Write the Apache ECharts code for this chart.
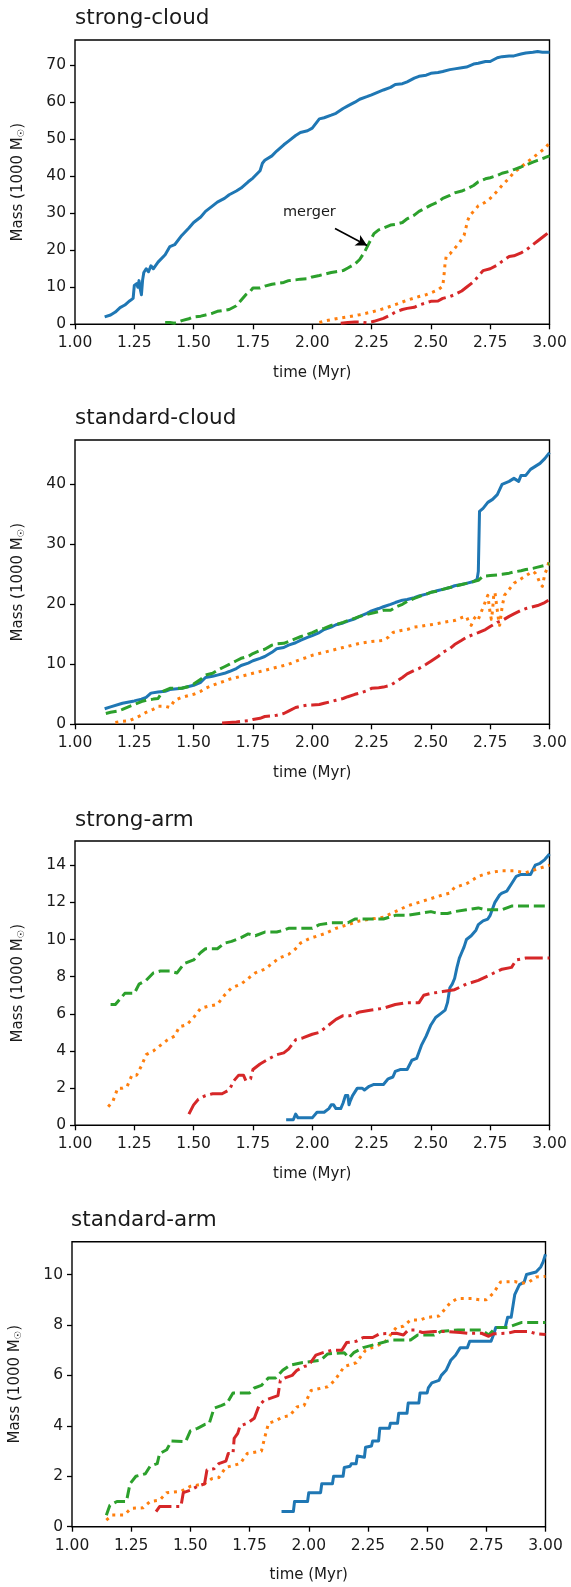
<!DOCTYPE html>
<html>
<head>
<meta charset="utf-8">
<script src="https://cdn.jsdelivr.net/npm/echarts@6/dist/echarts.min.js"></script>
<style>
html,body{margin:0;padding:0;background:#fff;}
#chart{width:571px;height:1587px;}
</style>
</head>
<body>
<div id="chart"></div>
<script>
// ---------- tick labels ----------
const xTicks = [1.00, 1.25, 1.50, 1.75, 2.00, 2.25, 2.50, 2.75, 3.00];
const yTicksStrongCloud = [0, 10, 20, 30, 40, 50, 60, 70];
const yTicksStandardCloud = [0, 10, 20, 30, 40];
const yTicksStrongArm = [0, 2, 4, 6, 8, 10, 12, 14];
const yTicksStandardArm = [0, 2, 4, 6, 8, 10];
const panelTitles = ['strong-cloud', 'standard-cloud', 'strong-arm', 'standard-arm'];
const yMax = [76.8, 47.4, 15.3, 11.3];

// ---------- strong-cloud: [time (Myr), mass (1000 Msun)] ----------
const strongCloudBlue = [[1.125,2.0],[1.15,2.5],[1.17,3.3],[1.19,4.5],[1.21,5.2],[1.23,6.3],[1.245,7.0],[1.25,10.5],[1.26,11.0],[1.265,10.0],[1.27,11.8],[1.275,9.5],[1.28,8.0],[1.285,12.0],[1.29,14.0],[1.30,15.0],[1.31,14.2],[1.32,15.8],[1.33,15.0],[1.35,16.8],[1.38,18.8],[1.40,21.0],[1.42,21.5],[1.45,24.0],[1.48,26.0],[1.50,27.5],[1.53,29.0],[1.55,30.5],[1.58,32.0],[1.60,33.0],[1.63,34.0],[1.65,35.0],[1.68,36.0],[1.70,36.8],[1.73,38.5],[1.75,39.5],[1.78,41.5],[1.79,43.5],[1.80,44.3],[1.83,45.5],[1.85,46.8],[1.88,48.5],[1.90,49.5],[1.93,51.0],[1.95,51.8],[1.98,52.3],[2.00,53.0],[2.03,55.5],[2.05,55.8],[2.08,56.5],[2.10,57.0],[2.13,58.3],[2.15,59.0],[2.18,60.0],[2.20,60.8],[2.23,61.5],[2.25,62.0],[2.28,62.8],[2.30,63.3],[2.33,64.0],[2.35,64.8],[2.38,65.0],[2.40,65.5],[2.43,66.5],[2.45,67.0],[2.48,67.3],[2.50,67.8],[2.53,68.0],[2.55,68.3],[2.58,68.8],[2.60,69.0],[2.63,69.3],[2.65,69.5],[2.68,70.3],[2.70,70.5],[2.73,71.0],[2.75,71.0],[2.78,72.0],[2.80,72.3],[2.83,72.5],[2.85,72.5],[2.88,73.0],[2.90,73.3],[2.93,73.5],[2.95,73.7],[2.97,73.5],[3.00,73.5]];
const strongCloudOrange = [[2.03,0.5],[2.06,1.0],[2.10,1.5],[2.15,2.0],[2.20,2.6],[2.25,3.3],[2.30,4.2],[2.35,5.3],[2.40,6.5],[2.45,7.5],[2.48,8.0],[2.50,8.5],[2.53,9.3],[2.55,10.3],[2.555,13.0],[2.56,16.5],[2.565,18.5],[2.58,19.0],[2.60,20.5],[2.62,22.0],[2.64,24.0],[2.655,28.0],[2.665,29.5],[2.68,30.5],[2.70,32.0],[2.73,33.0],[2.75,34.0],[2.78,36.0],[2.80,37.5],[2.83,39.5],[2.85,41.0],[2.88,42.5],[2.90,43.5],[2.93,45.0],[2.95,46.0],[2.98,47.5],[3.00,49.0]];
const strongCloudGreen = [[1.38,0.5],[1.40,0.5],[1.42,0.3],[1.45,1.0],[1.48,1.5],[1.50,2.0],[1.53,2.2],[1.55,2.5],[1.58,3.0],[1.60,3.5],[1.63,3.8],[1.65,4.0],[1.68,5.0],[1.70,6.5],[1.72,8.0],[1.74,9.0],[1.75,9.8],[1.78,9.8],[1.80,10.3],[1.83,10.8],[1.85,11.0],[1.88,11.3],[1.90,11.8],[1.93,12.0],[1.95,12.2],[1.98,12.3],[2.00,12.8],[2.03,13.2],[2.05,13.5],[2.08,14.0],[2.10,14.2],[2.13,14.5],[2.15,15.2],[2.18,16.3],[2.20,17.5],[2.22,19.5],[2.24,22.0],[2.26,24.5],[2.28,25.5],[2.30,26.0],[2.33,26.8],[2.35,27.0],[2.38,27.5],[2.40,28.5],[2.43,29.5],[2.45,30.5],[2.48,31.5],[2.50,32.2],[2.53,33.0],[2.55,34.0],[2.58,34.8],[2.60,35.5],[2.63,36.0],[2.65,36.5],[2.68,37.5],[2.70,38.5],[2.73,39.3],[2.75,39.6],[2.78,40.2],[2.80,40.8],[2.83,41.3],[2.85,41.8],[2.88,42.5],[2.90,43.0],[2.93,43.8],[2.95,44.3],[2.98,45.0],[3.00,45.5]];
const strongCloudRed = [[2.12,0.3],[2.15,0.5],[2.18,0.6],[2.20,0.6],[2.23,0.4],[2.26,0.8],[2.28,1.2],[2.30,1.6],[2.33,2.5],[2.35,3.3],[2.38,4.0],[2.40,4.3],[2.43,4.6],[2.45,5.2],[2.48,5.8],[2.50,6.2],[2.53,6.3],[2.55,7.0],[2.58,7.5],[2.60,8.0],[2.63,9.0],[2.65,10.0],[2.68,11.5],[2.70,13.0],[2.72,14.5],[2.75,15.0],[2.78,16.0],[2.80,17.0],[2.83,18.3],[2.85,18.5],[2.88,19.3],[2.90,20.0],[2.93,21.5],[2.95,22.5],[2.98,24.0],[3.00,25.0]];
// annotation "merger": text anchor and arrow (tail, head) in data units
const mergerText = [1.988, 30.2];
const mergerArrow = [[2.096, 25.9], [2.231, 21.3]];

// ---------- standard-cloud ----------
const standardCloudBlue = [[1.125,2.6],[1.15,2.9],[1.20,3.5],[1.25,3.9],[1.28,4.2],[1.30,4.5],[1.32,5.2],[1.35,5.4],[1.38,5.5],[1.40,5.8],[1.45,6.0],[1.50,6.5],[1.53,7.0],[1.55,7.8],[1.58,8.0],[1.60,8.2],[1.63,8.5],[1.65,8.8],[1.68,9.3],[1.70,9.8],[1.73,10.2],[1.75,10.6],[1.78,11.0],[1.80,11.3],[1.83,12.0],[1.85,12.6],[1.88,12.8],[1.90,13.2],[1.93,13.6],[1.95,14.0],[1.98,14.5],[2.00,14.8],[2.03,15.3],[2.05,15.8],[2.08,16.2],[2.10,16.6],[2.13,16.9],[2.15,17.2],[2.18,17.6],[2.20,18.0],[2.23,18.5],[2.25,18.9],[2.28,19.3],[2.30,19.6],[2.33,20.0],[2.35,20.3],[2.38,20.7],[2.40,20.8],[2.43,21.1],[2.45,21.4],[2.48,21.7],[2.50,22.0],[2.53,22.3],[2.55,22.5],[2.58,22.8],[2.60,23.1],[2.63,23.3],[2.65,23.5],[2.68,23.8],[2.695,24.2],[2.70,25.5],[2.705,35.5],[2.72,36.0],[2.74,37.0],[2.76,37.5],[2.78,38.3],[2.80,40.0],[2.83,40.5],[2.85,41.0],[2.87,40.5],[2.88,41.5],[2.90,41.5],[2.92,42.5],[2.94,43.0],[2.96,43.5],[2.98,44.3],[3.00,45.3]];
const standardCloudOrange = [[1.17,0.3],[1.20,0.5],[1.23,0.6],[1.25,1.0],[1.28,1.5],[1.30,2.0],[1.33,2.5],[1.35,3.0],[1.38,3.0],[1.40,2.8],[1.42,4.0],[1.45,4.5],[1.48,4.8],[1.50,5.0],[1.53,5.5],[1.55,6.0],[1.58,6.5],[1.60,6.8],[1.63,7.2],[1.65,7.5],[1.68,7.8],[1.70,8.0],[1.73,8.3],[1.75,8.5],[1.78,8.8],[1.80,9.0],[1.83,9.3],[1.85,9.5],[1.88,9.8],[1.90,10.0],[1.93,10.5],[1.95,10.8],[1.98,11.2],[2.00,11.5],[2.03,11.8],[2.05,12.0],[2.08,12.3],[2.10,12.5],[2.13,12.8],[2.15,13.0],[2.18,13.3],[2.20,13.5],[2.23,13.7],[2.25,13.8],[2.28,13.9],[2.30,14.0],[2.32,14.5],[2.34,15.3],[2.37,15.6],[2.40,15.8],[2.43,16.2],[2.45,16.3],[2.48,16.5],[2.50,16.6],[2.53,16.8],[2.55,17.0],[2.58,17.2],[2.60,17.3],[2.63,17.8],[2.65,18.0],[2.66,17.0],[2.67,16.5],[2.68,17.5],[2.69,18.0],[2.70,17.5],[2.71,18.5],[2.72,19.5],[2.73,20.5],[2.74,21.5],[2.745,20.0],[2.75,18.5],[2.755,17.5],[2.76,19.0],[2.765,21.5],[2.77,22.0],[2.775,20.5],[2.78,19.0],[2.785,17.5],[2.79,16.5],[2.795,18.0],[2.80,19.5],[2.81,21.5],[2.83,22.5],[2.85,23.5],[2.87,24.0],[2.89,24.5],[2.91,25.0],[2.93,25.5],[2.94,25.2],[2.95,24.5],[2.96,23.5],[2.97,23.0],[2.98,25.0],[2.99,26.0],[3.00,27.5]];
const standardCloudGreen = [[1.13,1.8],[1.15,2.0],[1.18,2.2],[1.20,2.5],[1.23,3.0],[1.25,3.3],[1.28,3.8],[1.30,4.0],[1.33,4.2],[1.35,4.3],[1.37,5.5],[1.40,6.0],[1.43,6.0],[1.45,6.0],[1.48,6.3],[1.50,6.7],[1.53,7.5],[1.55,8.2],[1.58,8.5],[1.60,9.0],[1.63,9.6],[1.65,10.0],[1.68,10.6],[1.70,11.0],[1.73,11.3],[1.75,11.8],[1.78,12.3],[1.80,12.5],[1.83,13.2],[1.85,13.4],[1.88,13.5],[1.90,13.8],[1.93,14.3],[1.95,14.6],[1.98,15.0],[2.00,15.3],[2.03,15.8],[2.05,16.0],[2.08,16.5],[2.10,16.6],[2.13,17.0],[2.15,17.3],[2.18,17.7],[2.20,18.0],[2.23,18.3],[2.25,18.5],[2.28,18.8],[2.30,19.0],[2.33,19.0],[2.35,19.5],[2.38,20.0],[2.40,20.5],[2.43,21.0],[2.45,21.3],[2.48,21.7],[2.50,22.0],[2.53,22.2],[2.55,22.5],[2.58,22.8],[2.60,23.0],[2.63,23.3],[2.65,23.5],[2.68,23.8],[2.70,24.0],[2.72,24.7],[2.75,24.8],[2.78,24.9],[2.80,25.0],[2.83,25.2],[2.85,25.4],[2.88,25.6],[2.90,25.8],[2.93,26.0],[2.95,26.2],[2.98,26.5],[3.00,26.8]];
const standardCloudRed = [[1.62,0.2],[1.65,0.3],[1.68,0.4],[1.70,0.5],[1.73,0.6],[1.75,0.8],[1.78,1.0],[1.80,1.3],[1.83,1.4],[1.85,1.5],[1.88,1.8],[1.90,2.2],[1.93,2.8],[1.95,3.0],[1.98,3.2],[2.00,3.2],[2.03,3.3],[2.05,3.5],[2.08,3.8],[2.10,4.0],[2.13,4.3],[2.15,4.6],[2.18,5.0],[2.20,5.2],[2.23,5.6],[2.25,6.0],[2.28,6.1],[2.30,6.2],[2.33,6.5],[2.35,7.0],[2.38,7.8],[2.40,8.4],[2.43,9.0],[2.45,9.3],[2.48,10.0],[2.50,10.5],[2.53,11.3],[2.55,12.0],[2.58,12.6],[2.60,13.3],[2.63,14.0],[2.65,14.5],[2.68,15.0],[2.70,15.3],[2.73,15.8],[2.75,16.3],[2.78,17.0],[2.80,17.3],[2.83,18.0],[2.85,18.4],[2.88,19.0],[2.90,19.3],[2.93,19.6],[2.95,19.8],[2.98,20.3],[3.00,20.8]];

// ---------- strong-arm ----------
const strongArmBlue = [[1.89,0.3],[1.92,0.3],[1.93,0.6],[1.94,0.4],[1.97,0.4],[2.00,0.4],[2.02,0.7],[2.05,0.7],[2.07,0.9],[2.08,1.1],[2.09,1.1],[2.10,0.9],[2.12,0.9],[2.13,1.2],[2.14,1.6],[2.15,1.6],[2.155,1.1],[2.16,1.3],[2.17,1.6],[2.19,2.0],[2.21,2.0],[2.22,1.9],[2.24,2.1],[2.26,2.2],[2.30,2.2],[2.32,2.5],[2.34,2.6],[2.35,2.9],[2.37,3.0],[2.40,3.0],[2.42,3.5],[2.44,3.6],[2.46,4.3],[2.48,4.8],[2.50,5.4],[2.52,5.8],[2.54,6.0],[2.56,6.2],[2.57,6.6],[2.58,7.4],[2.59,7.6],[2.60,7.9],[2.61,8.5],[2.62,9.0],[2.63,9.3],[2.64,9.6],[2.65,10.0],[2.67,10.2],[2.69,10.5],[2.70,10.8],[2.72,11.0],[2.74,11.1],[2.75,11.3],[2.77,12.0],[2.79,12.4],[2.80,12.5],[2.82,12.6],[2.84,13.0],[2.86,13.4],[2.88,13.5],[2.90,13.5],[2.92,13.5],[2.94,14.0],[2.96,14.1],[2.98,14.3],[3.00,14.6]];
const strongArmOrange = [[1.14,1.0],[1.16,1.3],[1.18,2.0],[1.20,2.0],[1.22,2.1],[1.24,2.7],[1.26,2.7],[1.28,3.2],[1.30,3.8],[1.33,4.0],[1.36,4.3],[1.39,4.6],[1.42,4.8],[1.44,5.3],[1.47,5.4],[1.50,5.8],[1.53,6.3],[1.56,6.4],[1.60,6.5],[1.63,7.0],[1.66,7.4],[1.70,7.6],[1.73,7.9],[1.76,8.2],[1.80,8.4],[1.83,8.7],[1.86,9.0],[1.90,9.2],[1.93,9.5],[1.95,9.8],[1.98,10.0],[2.00,10.1],[2.05,10.3],[2.10,10.6],[2.15,10.8],[2.20,11.0],[2.25,11.1],[2.30,11.2],[2.35,11.5],[2.40,11.8],[2.45,12.0],[2.50,12.2],[2.55,12.4],[2.58,12.5],[2.60,12.8],[2.65,13.0],[2.70,13.4],[2.75,13.6],[2.80,13.7],[2.85,13.7],[2.90,13.6],[2.95,13.8],[3.00,14.0]];
const strongArmGreen = [[1.15,6.5],[1.17,6.5],[1.19,6.8],[1.21,7.1],[1.25,7.1],[1.27,7.6],[1.30,7.8],[1.33,8.2],[1.36,8.3],[1.40,8.3],[1.43,8.2],[1.46,8.7],[1.50,8.9],[1.53,9.3],[1.55,9.5],[1.60,9.5],[1.63,9.8],[1.66,9.9],[1.70,10.1],[1.73,10.3],[1.76,10.2],[1.80,10.4],[1.85,10.4],[1.88,10.5],[1.90,10.6],[1.95,10.6],[2.00,10.6],[2.03,10.8],[2.08,10.9],[2.15,10.9],[2.18,11.1],[2.22,11.1],[2.30,11.1],[2.35,11.3],[2.40,11.3],[2.45,11.4],[2.50,11.5],[2.53,11.4],[2.57,11.4],[2.60,11.5],[2.65,11.6],[2.70,11.7],[2.73,11.6],[2.80,11.6],[2.84,11.8],[2.90,11.8],[2.95,11.8],[3.00,11.8]];
const strongArmRed = [[1.48,0.6],[1.50,1.1],[1.52,1.4],[1.55,1.6],[1.58,1.7],[1.62,1.7],[1.65,1.9],[1.67,2.4],[1.69,2.7],[1.71,2.7],[1.72,2.4],[1.74,2.5],[1.75,3.0],[1.78,3.3],[1.82,3.6],[1.85,3.8],[1.88,3.9],[1.90,4.1],[1.93,4.6],[1.96,4.7],[2.00,4.9],[2.03,5.0],[2.06,5.3],[2.10,5.7],[2.13,5.9],[2.16,5.9],[2.20,6.1],[2.25,6.2],[2.30,6.3],[2.35,6.5],[2.40,6.6],[2.45,6.6],[2.47,7.0],[2.50,7.1],[2.55,7.2],[2.60,7.3],[2.65,7.6],[2.70,7.8],[2.75,8.1],[2.80,8.4],[2.84,8.5],[2.86,8.9],[2.90,9.0],[2.95,9.0],[3.00,9.0]];

// ---------- standard-arm ----------
const standardArmBlue = [[1.885,0.6],[1.935,0.6],[1.94,1.0],[1.995,1.0],[2.0,1.35],[2.05,1.35],[2.055,1.7],[2.10,1.7],[2.105,2.0],[2.145,2.0],[2.15,2.35],[2.175,2.4],[2.18,2.5],[2.20,2.5],[2.205,2.8],[2.235,2.75],[2.24,3.15],[2.265,3.2],[2.27,3.4],[2.295,3.4],[2.30,3.9],[2.34,3.9],[2.345,4.1],[2.375,4.1],[2.38,4.5],[2.415,4.5],[2.42,4.9],[2.465,4.9],[2.47,5.3],[2.50,5.3],[2.505,5.5],[2.52,5.7],[2.55,5.8],[2.56,6.0],[2.58,6.2],[2.60,6.6],[2.62,6.8],[2.64,7.1],[2.67,7.1],[2.68,7.35],[2.77,7.35],[2.78,7.6],[2.79,7.9],[2.83,7.9],[2.84,8.3],[2.855,8.3],[2.87,9.2],[2.89,9.6],[2.91,9.7],[2.92,10.0],[2.96,10.1],[2.98,10.3],[2.99,10.5],[3.00,10.8]];
const standardArmOrange = [[1.145,0.26],[1.17,0.46],[1.22,0.46],[1.25,0.73],[1.30,0.75],[1.33,1.0],[1.37,1.05],[1.40,1.35],[1.46,1.4],[1.50,1.6],[1.56,1.7],[1.59,1.9],[1.62,1.95],[1.65,2.35],[1.71,2.5],[1.74,2.9],[1.80,3.0],[1.815,3.57],[1.83,4.1],[1.86,4.2],[1.89,4.35],[1.92,4.4],[1.95,4.75],[1.98,4.8],[2.01,5.4],[2.08,5.55],[2.11,5.8],[2.15,6.35],[2.20,6.5],[2.24,7.0],[2.32,7.3],[2.37,7.9],[2.40,7.95],[2.43,8.2],[2.47,8.2],[2.50,8.3],[2.55,8.35],[2.60,8.9],[2.63,9.05],[2.69,9.05],[2.72,9.0],[2.75,9.0],[2.78,9.26],[2.81,9.7],[2.87,9.72],[2.90,9.65],[2.93,9.7],[2.96,9.9],[3.00,9.92]];
const standardArmGreen = [[1.145,0.45],[1.16,0.85],[1.19,1.0],[1.23,1.0],[1.245,1.7],[1.27,2.0],[1.31,2.1],[1.33,2.4],[1.36,2.5],[1.37,2.9],[1.40,3.05],[1.42,3.4],[1.48,3.37],[1.50,3.8],[1.53,3.9],[1.56,4.05],[1.58,4.1],[1.60,4.7],[1.63,4.8],[1.655,4.9],[1.68,5.3],[1.75,5.3],[1.77,5.5],[1.80,5.6],[1.83,5.9],[1.86,5.9],[1.89,6.2],[1.92,6.4],[1.97,6.5],[2.01,6.55],[2.05,6.6],[2.08,6.85],[2.15,6.9],[2.17,6.7],[2.19,6.9],[2.23,7.1],[2.29,7.25],[2.35,7.4],[2.43,7.4],[2.46,7.6],[2.53,7.6],[2.56,7.75],[2.63,7.8],[2.73,7.8],[2.76,7.6],[2.79,7.9],[2.84,7.9],[2.87,8.0],[2.90,8.1],[3.00,8.1]];
const standardArmRed = [[1.355,0.6],[1.37,0.8],[1.40,0.8],[1.46,0.8],[1.47,1.35],[1.50,1.45],[1.53,1.6],[1.56,1.7],[1.57,2.25],[1.60,2.3],[1.62,2.5],[1.65,2.6],[1.66,2.9],[1.68,2.9],[1.685,3.5],[1.70,3.7],[1.71,4.0],[1.74,4.1],[1.77,4.3],[1.79,4.8],[1.81,5.0],[1.84,5.1],[1.87,5.2],[1.88,5.8],[1.90,5.9],[1.93,6.0],[1.95,6.2],[1.98,6.35],[2.00,6.4],[2.03,6.8],[2.06,6.9],[2.10,7.0],[2.14,7.0],[2.16,7.3],[2.20,7.35],[2.23,7.5],[2.27,7.5],[2.30,7.65],[2.37,7.67],[2.40,7.6],[2.42,7.8],[2.45,7.8],[2.48,7.7],[2.53,7.74],[2.58,7.74],[2.64,7.7],[2.67,7.67],[2.73,7.67],[2.76,7.55],[2.78,7.65],[2.84,7.67],[2.87,7.74],[2.93,7.74],[2.96,7.65],[3.00,7.62]];

// ---------- build chart ----------
const FONT = 'DejaVu Sans';
const TXT = '#1a1a1a';
const COLORS = { blue: '#1f77b4', orange: '#ff7f0e', green: '#2ca02c', red: '#d62728' };
const LW = 3;
const STYLES = {
  blue:   { type: 'solid' },
  orange: { type: [3, 4.8], cap: 'butt' },
  green:  { type: [11, 4.8], cap: 'butt' },
  red:    { type: [18, 4.8, 3, 4.8], cap: 'butt' }
};

const layout = [
  { left: 75, top: 40,     width: 474.5, height: 284.3, titleTop: 7 },
  { left: 75, top: 440,    width: 474.5, height: 284.3, titleTop: 407.5 },
  { left: 75, top: 841,    width: 474.5, height: 284.3, titleTop: 809 },
  { left: 71, top: 1241.7, width: 474.5, height: 285,   titleTop: 1209 }
];
const yTickSets = [yTicksStrongCloud, yTicksStandardCloud, yTicksStrongArm, yTicksStandardArm];
const panelData = [
  { blue: strongCloudBlue, orange: strongCloudOrange, green: strongCloudGreen, red: strongCloudRed },
  { blue: standardCloudBlue, orange: standardCloudOrange, green: standardCloudGreen, red: standardCloudRed },
  { blue: strongArmBlue, orange: strongArmOrange, green: strongArmGreen, red: strongArmRed },
  { blue: standardArmBlue, orange: standardArmOrange, green: standardArmGreen, red: standardArmRed }
];

const grids = [], xAxes = [], yAxes = [], titles = [], series = [];
layout.forEach((L, i) => {
  grids.push({ left: L.left, top: L.top, width: L.width, height: L.height, show: true,
    borderColor: '#000', borderWidth: 1.4, backgroundColor: 'transparent', containLabel: false });
  titles.push({ text: panelTitles[i], left: L.left, top: L.titleTop, padding: 0,
    textStyle: { fontFamily: FONT, fontSize: 21.5, fontWeight: 'normal', color: TXT } });
  xAxes.push({ type: 'value', gridIndex: i, min: 1, max: 3, interval: 0.25,
    name: 'time (Myr)', nameLocation: 'middle', nameGap: 41,
    nameTextStyle: { fontFamily: FONT, fontSize: 15, color: TXT },
    axisLine: { show: false },
    axisTick: { show: true, length: 5, lineStyle: { color: '#000', width: 1.3 }, customValues: xTicks },
    axisLabel: { color: TXT, fontFamily: FONT, fontSize: 15.5, margin: 11, customValues: xTicks,
      formatter: v => v.toFixed(2) },
    splitLine: { show: false } });
  yAxes.push({ type: 'value', gridIndex: i, min: 0, max: yMax[i],
    name: 'Mass (1000 M{s|☉})', nameLocation: 'middle', nameGap: 48, nameRotate: 90,
    nameTextStyle: { fontFamily: FONT, fontSize: 15, color: TXT,
      rich: { s: { fontFamily: FONT, fontSize: 9.5, color: TXT, padding: [7, 0, 0, 0] } } },
    axisLine: { show: false },
    axisTick: { show: true, length: 5, lineStyle: { color: '#000', width: 1.3 }, customValues: yTickSets[i] },
    axisLabel: { color: TXT, fontFamily: FONT, fontSize: 15.5, margin: 9, customValues: yTickSets[i] },
    splitLine: { show: false } });
  ['blue', 'orange', 'green', 'red'].forEach(k => {
    const s = {
      type: 'line', xAxisIndex: i, yAxisIndex: i, data: panelData[i][k],
      showSymbol: false, symbol: 'none', animation: false, silent: true, clip: true,
      lineStyle: Object.assign({ color: COLORS[k], width: LW, join: 'round' }, STYLES[k]),
      z: 2
    };
    if (i === 0 && k === 'green') {
      s.markLine = {
        silent: true, animation: false, symbol: ['none', 'arrow'], symbolSize: [9, 11],
        lineStyle: { color: '#000', width: 1.6, type: 'solid' }, label: { show: false },
        data: [[{ coord: mergerArrow[0] }, { coord: mergerArrow[1] }]]
      };
      s.markPoint = {
        silent: true, animation: false, symbol: 'circle', symbolSize: 0,
        label: { show: true, position: 'inside', formatter: 'merger', color: TXT, fontFamily: FONT, fontSize: 14.5 },
        data: [{ coord: mergerText }]
      };
    }
    series.push(s);
  });
});

const chart = echarts.init(document.getElementById('chart'), null, { renderer: 'canvas', width: 571, height: 1587 });
chart.setOption({
  backgroundColor: '#fff',
  animation: false,
  title: titles,
  grid: grids,
  xAxis: xAxes,
  yAxis: yAxes,
  series: series
});
</script>
</body>
</html>
